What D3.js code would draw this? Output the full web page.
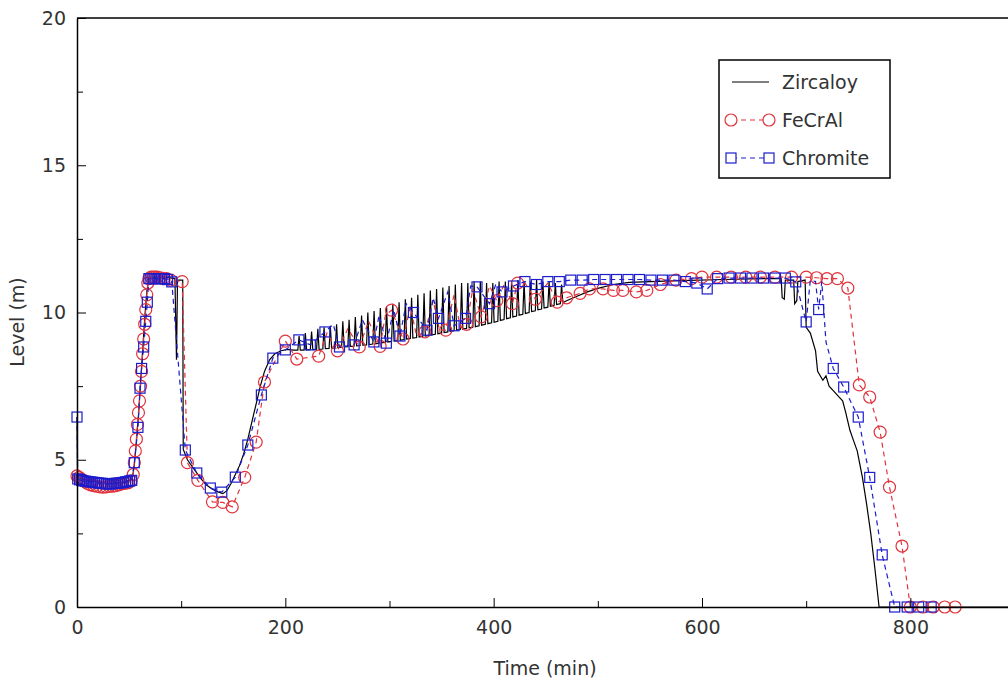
<!DOCTYPE html>
<html>
<head>
<meta charset="utf-8">
<script src="https://cdn.jsdelivr.net/npm/d3@7"></script>
<style>
  html, body { margin: 0; padding: 0; background: #fff; }
  svg { display: block; }
  text { font-family: "DejaVu Sans", sans-serif; fill: #333; }
</style>
</head>
<body>
<svg id="chart" width="1008" height="683"></svg>
<script>
// Core level during the transient, three cladding types.
const xTicks = [0, 200, 400, 600, 800];
const xMinorTicks = [100, 300, 500, 700, 900];
const yTicks = [0, 5, 10, 15, 20];
const yMinorTicks = [2.5, 7.5, 12.5, 17.5];
const seriesNames = ["Zircaloy", "FeCrAl", "Chromite"];

// Zircaloy: [time (min), level (m)]
const zircaloy = [
  [0,6.45],[0.5,4.4],[3,4.38],[6,4.33],[10,4.3],[15,4.27],[20,4.24],[25,4.2],[30,4.18],[35,4.2],
  [40,4.22],[45,4.25],[50,4.3],[53,4.35],[55,4.8],[57,5.6],[59,6.5],[61,7.6],[63,8.7],[65,9.8],
  [67,10.7],[69,11.15],[75,11.2],[85,11.2],[94,11.15],[95.5,8.4],[96.5,11.1],[101.5,11.1],[102,5.35],
  [106,5.0],[112,4.7],[118,4.4],[124,4.15],[130,4.0],[136,3.9],[140,3.85],[144,3.95],[148,4.2],
  [152,4.5],[156,4.8],[160,5.2],[164,5.7],[168,6.3],[172,6.9],[176,7.5],[180,8.0],[185,8.4],
  [190,8.6],[196,8.7],[202,8.75],[208,8.72],
  [212,8.72],[213.2,9.2],[214.4,8.72],[218,8.72],[219.2,9.3],[220.4,8.73],
  [224,8.74],[225.2,9.35],[226.4,8.74],[230,8.75],[231.2,9.45],[232.4,8.75],
  [236,8.76],[237.2,9.5],[238.4,8.77],[242,8.78],[243.2,9.55],[244.4,8.79],
  [248,8.8],[249.2,9.6],[250.4,8.81],[254,8.82],[255.2,9.7],[256.4,8.83],
  [260,8.84],[261.2,9.75],[262.4,8.85],[266,8.86],[267.2,9.85],[268.4,8.87],
  [272,8.88],[273.2,9.9],[274.4,8.89],[278,8.9],[279.2,10.0],[280.4,8.91],
  [284,8.93],[285.2,10.05],[286.4,8.94],[290,8.96],[291.2,10.15],[292.4,8.97],
  [296,8.99],[297.2,10.2],[298.4,9.0],[302,9.02],[303.2,10.3],[304.4,9.03],
  [308,9.05],[309.2,10.35],[310.4,9.06],[314,9.08],[315.2,10.45],[316.4,9.1],
  [320,9.12],[321.2,10.5],[322.4,9.13],[326,9.15],[327.2,10.6],[328.4,9.17],
  [332,9.19],[333.2,10.65],[334.4,9.2],[338,9.22],[339.2,10.75],[340.4,9.24],
  [344,9.26],[345.2,10.8],[346.4,9.28],[350,9.3],[351.2,10.85],[352.4,9.32],
  [356,9.34],[357.2,10.9],[358.4,9.36],[362,9.38],[363.2,10.95],[364.4,9.4],
  [368,9.42],[369.2,11.0],[370.4,9.44],[374,9.46],[375.2,11.0],[376.4,9.48],
  [380,9.5],[381.2,11.05],[382.4,9.52],[386,9.55],[387.2,11.05],[388.4,9.57],
  [392,9.6],[393.2,11.0],[394.4,9.62],[398,9.65],[399.2,11.0],[400.4,9.67],
  [404,9.7],[405.2,11.05],[406.4,9.73],[410,9.76],[411.2,11.05],[412.4,9.79],
  [416,9.82],[417.2,11.05],[418.4,9.85],[422,9.88],[423.2,11.1],[424.4,9.91],
  [428,9.94],[429.2,11.05],[430.4,9.97],[434,10.0],[435.2,11.05],[436.4,10.03],
  [440,10.06],[441.2,11.1],[442.4,10.09],[446,10.12],[447.2,11.05],[448.4,10.15],
  [452,10.18],[453.2,11.05],[454.4,10.21],[458,10.24],[459.2,11.0],[460.4,10.27],
  [464,10.3],[465.2,10.95],[466.4,10.33],
  [470,10.4],[480,10.55],[490,10.7],[500,10.82],[515,10.95],[530,11.02],[550,11.05],
  [580,11.08],[620,11.12],[660,11.15],[676,11.15],[677,10.5],[679,10.45],[680,11.1],
  [688,11.1],[689,10.3],[691,10.4],[692,11.05],[699,11.1],[700,9.5],[704,9.3],[709,8.7],
  [711,8.0],[716,7.7],[719,7.85],[722,7.5],[726,7.35],[731,7.15],[735,7.0],[738,6.6],
  [742,6.0],[746,5.6],[749,5.3],[754,4.4],[758,3.5],[762,2.5],[766,1.3],[770,0],[900,0]
];

// FeCrAl: marked samples and the short swings between them
const fecralMarks = [
  [0,4.45],[2,4.4],[4,4.35],[6,4.3],[8,4.25],[10,4.2],[13,4.15],[16,4.12],[19,4.1],[22,4.08],
  [25,4.07],[28,4.08],[31,4.1],[34,4.1],[37,4.12],[40,4.15],[43,4.18],[46,4.2],[49,4.22],[52,4.28],
  [54,4.5],[55,4.9],[56,5.3],[57,5.7],[58,6.2],[59,6.6],[60,7.0],[61,7.5],[62,8.0],[63,8.6],
  [64,9.1],[65,9.6],[66,10.1],[67,10.6],[68,11.0],[69,11.15],[71,11.2],[73,11.2],[75,11.2],
  [77,11.2],[80,11.18],[83,11.15],[86,11.15],[90,11.1],[101,11.05],[106,4.9],[116,4.3],
  [130,3.57],[140,3.55],[149,3.4],[161,4.4],[172,5.6],[180,7.64],[200,9.03],[211,8.42],
  [232,8.52],[250,8.7],[271,8.83],[291,8.85],[302,10.08],[313,9.1],[334,9.34],[354,9.4],
  [374,9.6],[388,9.85],[403,10.4],[418,10.3],[423,11.0],[440,10.45],[461,10.35],[470,10.5],
  [483,10.65],[492,10.8],[505,10.8],[515,10.75],[524,10.75],[537,10.7],[547,10.75],[560,10.95],
  [575,11.1],[590,11.15],[600,11.2],[614,11.2],[628,11.2],[642,11.2],[656,11.2],[670,11.2],
  [686,11.2],[700,11.2],[710,11.18],[720,11.15],[730,11.15],[740,10.83],[751,7.54],[761,7.13],
  [771,5.94],[780,4.07],[792,2.07],[800,0],[812,0],[822,0],[833,0],[843,0]
];
const fecralSwings = [
  [240,9.3],[260,9.45],[280,9.7],[296,9.9],[320,10.2],[326,9.2],[342,10.4],[348,9.4],
  [362,10.6],[368,9.5],[380,10.8],[396,10.9],[410,10.95],[430,11.0],[452,11.0]
];

// Chromite: marked samples and the short swings between them
const chromiteMarks = [
  [0,6.45],[0.7,4.35],[2.5,4.32],[4.5,4.3],[6.5,4.28],[8.5,4.27],[10.5,4.26],[12.5,4.25],
  [14.5,4.24],[16.5,4.23],[18.5,4.22],[20.5,4.21],[22.5,4.2],[24.5,4.2],[26.5,4.19],[28.5,4.18],
  [30.5,4.18],[32.5,4.18],[34.5,4.19],[36.5,4.2],[38.5,4.2],[40.5,4.21],[42.5,4.22],[44.5,4.23],
  [46.5,4.25],[48.5,4.26],[50.5,4.28],[52.5,4.3],[55,4.9],[58.5,6.1],[60.5,7.43],[62,8.1],
  [64,8.83],[66,9.7],[67.5,10.35],[69,11.15],[71,11.15],[73,11.15],[75,11.15],[77,11.15],
  [79,11.15],[81,11.15],[84,11.15],[87,11.12],[91,11.04],[104,5.33],[115,4.55],[128,4.04],
  [139,3.9],[152,4.41],[164,5.5],[177,7.2],[188,8.45],[200,8.73],[213,9.07],[224,8.9],
  [238,9.34],[252,8.83],[266,8.9],[285,9.0],[297,8.96],[310,9.2],[323,10.0],[336,9.4],
  [347,9.8],[362,9.55],[373,9.8],[384,10.87],[396,10.3],[408,10.7],[419,10.9],[430,11.05],
  [441,10.95],[452,11.05],[463,11.05],[474,11.1],[485,11.1],[496,11.12],[507,11.12],[518,11.12],
  [529,11.12],[540,11.12],[551,11.1],[562,11.1],[573,11.1],[584,11.05],[595,11.0],[605,10.8],
  [615,11.15],[626,11.17],[637,11.17],[648,11.17],[659,11.17],[670,11.17],[680,11.17],
  [690,11.04],[700,9.68],[712,10.1],[726,8.1],[736,7.47],[750,6.45],[761,4.4],[773,1.77],
  [785,0],[797,0],[808,0],[820,0]
];
const chromiteSwings = [
  [246,9.6],[274,9.75],[290,9.9],[304,10.1],[316,10.3],[342,10.5],[356,10.7],[378,10.9],
  [402,10.95],[704,11.1],[709,11.05],[715,11.05],[719,9.0]
];

const colors = { Zircaloy: "#000000", FeCrAl: "#e0333c", Chromite: "#1c1ccc" };

const svg = d3.select("#chart");
const x = d3.scaleLinear().domain([0, 900]).range([77, 1014.5]);
const y = d3.scaleLinear().domain([0, 20]).range([607, 18]);

const byTime = (a, b) => a[0] - b[0];
const line = d3.line().x(d => x(d[0])).y(d => y(d[1]));

const plot = svg.append("g");
const circleR = 6;
const sq = 10;

// Zircaloy solid trace
plot.append("path")
  .datum(zircaloy)
  .attr("fill", "none")
  .attr("stroke", colors.Zircaloy)
  .attr("stroke-width", 1.2)
  .attr("d", line);

// FeCrAl dashed trace with circles
plot.append("path")
  .datum(fecralMarks.concat(fecralSwings).sort(byTime))
  .attr("fill", "none")
  .attr("stroke", colors.FeCrAl)
  .attr("stroke-width", 1.2)
  .attr("stroke-dasharray", "5,4")
  .attr("d", line);
plot.append("g").selectAll("circle")
  .data(fecralMarks)
  .join("circle")
  .attr("cx", d => x(d[0]))
  .attr("cy", d => y(d[1]))
  .attr("r", circleR)
  .attr("fill", "none")
  .attr("stroke", colors.FeCrAl)
  .attr("stroke-width", 1.2);

// Chromite dashed trace with squares
plot.append("path")
  .datum(chromiteMarks.concat(chromiteSwings).sort(byTime))
  .attr("fill", "none")
  .attr("stroke", colors.Chromite)
  .attr("stroke-width", 1.2)
  .attr("stroke-dasharray", "5,4")
  .attr("d", line);
plot.append("g").selectAll("rect")
  .data(chromiteMarks)
  .join("rect")
  .attr("x", d => x(d[0]) - sq / 2)
  .attr("y", d => y(d[1]) - sq / 2)
  .attr("width", sq)
  .attr("height", sq)
  .attr("fill", "none")
  .attr("stroke", colors.Chromite)
  .attr("stroke-width", 1.2);

// Axes with inward ticks
const fontSize = 19;
function styleAxis(g) {
  g.select(".domain").attr("stroke", "#000").attr("stroke-width", 1.5);
  g.selectAll(".tick line").attr("stroke", "#000").attr("stroke-width", 1);
  g.selectAll(".tick text")
    .attr("font-size", fontSize)
    .attr("font-family", "DejaVu Sans, sans-serif")
    .attr("fill", "#3c3c3c");
}

svg.append("g")
  .attr("transform", `translate(0,${y(0)})`)
  .call(d3.axisBottom(x).tickValues(xMinorTicks).tickSize(-6).tickFormat(""))
  .call(g => g.select(".domain").remove())
  .call(g => g.selectAll(".tick line").attr("stroke", "#000"));
svg.append("g")
  .attr("transform", `translate(0,${y(0)})`)
  .call(d3.axisBottom(x).tickValues(xTicks).tickSize(-9).tickSizeOuter(0).tickPadding(14).tickFormat(d3.format("d")))
  .call(styleAxis);

svg.append("g")
  .attr("transform", `translate(${x(0)},0)`)
  .call(d3.axisLeft(y).tickValues(yMinorTicks).tickSize(-6).tickFormat(""))
  .call(g => g.select(".domain").remove())
  .call(g => g.selectAll(".tick line").attr("stroke", "#000"));
svg.append("g")
  .attr("transform", `translate(${x(0)},0)`)
  .call(d3.axisLeft(y).tickValues(yTicks).tickSize(-9).tickSizeOuter(0).tickPadding(11).tickFormat(d3.format("d")))
  .call(styleAxis);

// Top and right frame
svg.append("path")
  .attr("d", `M${x(0)},${y(20)}H${x(900)}V${y(0)}`)
  .attr("fill", "none")
  .attr("stroke", "#000")
  .attr("stroke-width", 1.5);

// Axis titles
svg.append("text")
  .attr("x", 545)
  .attr("y", 675)
  .attr("text-anchor", "middle")
  .attr("font-size", fontSize)
  .attr("fill", "#3c3c3c")
  .text("Time (min)");
svg.append("text")
  .attr("transform", "translate(24,322) rotate(-90)")
  .attr("text-anchor", "middle")
  .attr("font-size", fontSize)
  .attr("fill", "#3c3c3c")
  .text("Level (m)");

// Legend
const legend = svg.append("g").attr("transform", "translate(719,60)");
legend.append("rect")
  .attr("width", 171).attr("height", 118)
  .attr("fill", "#fff").attr("stroke", "#000").attr("stroke-width", 1.5);
const rowY = [22, 60, 98];
seriesNames.forEach((name, i) => {
  const row = legend.append("g").attr("transform", `translate(0,${rowY[i]})`);
  const ln = row.append("line")
    .attr("x1", 13).attr("x2", 50).attr("y1", 0).attr("y2", 0)
    .attr("stroke", colors[name]).attr("stroke-width", 1.2);
  if (name !== "Zircaloy") ln.attr("stroke-dasharray", "5,4");
  if (name === "FeCrAl") {
    row.selectAll("circle").data([12, 50]).join("circle")
      .attr("cx", d => d).attr("cy", 0).attr("r", circleR)
      .attr("fill", "#fff").attr("stroke", colors[name]).attr("stroke-width", 1.2);
  }
  if (name === "Chromite") {
    row.selectAll("rect").data([12, 50]).join("rect")
      .attr("x", d => d - sq / 2).attr("y", -sq / 2).attr("width", sq).attr("height", sq)
      .attr("fill", "#fff").attr("stroke", colors[name]).attr("stroke-width", 1.2);
  }
  row.append("text")
    .attr("x", 63).attr("y", 0).attr("dy", "0.35em")
    .attr("font-size", fontSize)
    .attr("fill", "#222")
    .text(name);
});
</script>
</body>
</html>
